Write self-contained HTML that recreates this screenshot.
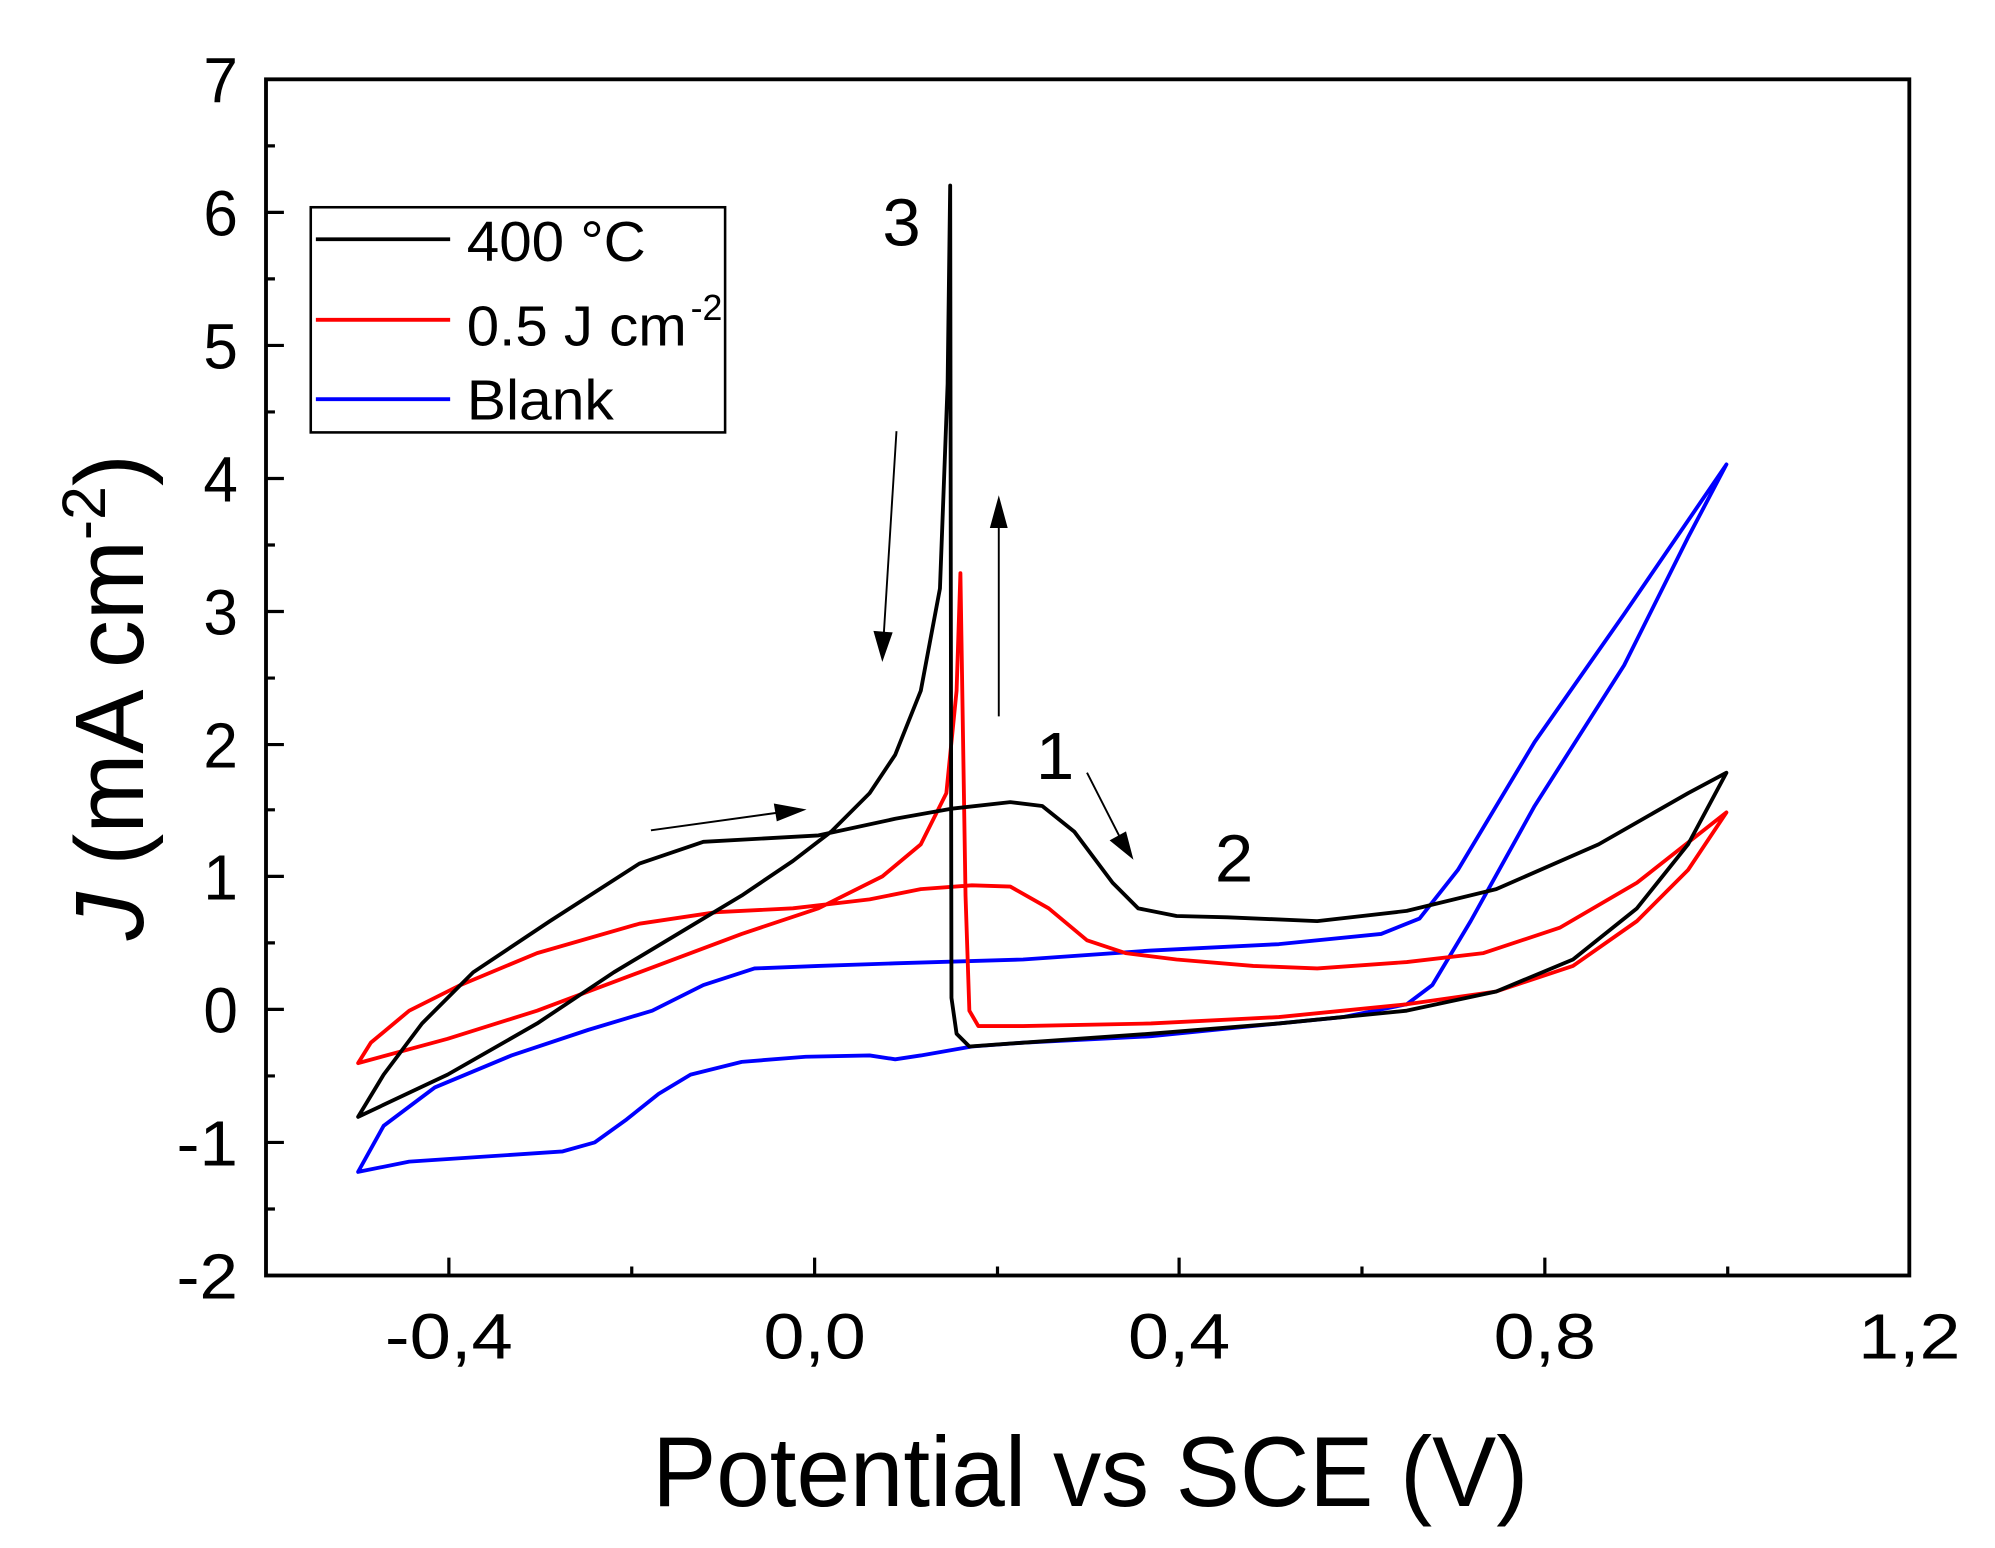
<!DOCTYPE html>
<html><head><style>html,body{margin:0;padding:0;background:#fff}svg{display:block}</style></head><body>
<svg width="1995" height="1548" viewBox="0 0 1560 1210" preserveAspectRatio="none" xmlns="http://www.w3.org/2000/svg" font-family="Liberation Sans, sans-serif">
<rect width="1560" height="1210" fill="#fff"/>
<rect x="208" y="62" width="1285" height="935" fill="none" stroke="#000" stroke-width="3"/>
<g stroke="#000" stroke-width="2.5">
<path d="M208 62h14M208 166h14M208 270h14M208 374h14M208 478h14M208 582h14M208 685h14M208 789h14M208 893h14"/>
<path d="M208 114h7M208 218h7M208 322h7M208 426h7M208 530h7M208 633h7M208 737h7M208 841h7M208 945h7"/>
<path d="M351 997v-14M637 997v-14M922 997v-14M1208 997v-14M494 997v-7M780 997v-7M1065 997v-7M1351 997v-7"/>
</g>
<g font-size="50" text-anchor="end">
<text x="186" y="80" textLength="27" lengthAdjust="spacingAndGlyphs">7</text><text x="186" y="184" textLength="27" lengthAdjust="spacingAndGlyphs">6</text><text x="186" y="288" textLength="27" lengthAdjust="spacingAndGlyphs">5</text><text x="186" y="392" textLength="27" lengthAdjust="spacingAndGlyphs">4</text><text x="186" y="496" textLength="27" lengthAdjust="spacingAndGlyphs">3</text><text x="186" y="600" textLength="27" lengthAdjust="spacingAndGlyphs">2</text><text x="186" y="703" textLength="27" lengthAdjust="spacingAndGlyphs">1</text><text x="186" y="807" textLength="27" lengthAdjust="spacingAndGlyphs">0</text><text x="186" y="911" textLength="48" lengthAdjust="spacingAndGlyphs">-1</text><text x="186" y="1015" textLength="48" lengthAdjust="spacingAndGlyphs">-2</text>
</g>
<g font-size="50" text-anchor="middle">
<text x="351" y="1062" textLength="100" lengthAdjust="spacingAndGlyphs">-0,4</text><text x="637" y="1062" textLength="80" lengthAdjust="spacingAndGlyphs">0,0</text><text x="922" y="1062" textLength="80" lengthAdjust="spacingAndGlyphs">0,4</text><text x="1208" y="1062" textLength="80" lengthAdjust="spacingAndGlyphs">0,8</text><text x="1493" y="1062" textLength="80" lengthAdjust="spacingAndGlyphs">1,2</text>
</g>
<text x="510" y="1177" font-size="78" textLength="685" lengthAdjust="spacingAndGlyphs">Potential vs SCE (V)</text>
<text transform="translate(112,735) rotate(-90)" font-size="76" textLength="380" lengthAdjust="spacingAndGlyphs"><tspan font-style="italic">J</tspan> (mA cm<tspan font-size="48" dy="-30">-2</tspan><tspan dy="30">)</tspan></text>
<g fill="none" stroke-width="3" stroke-linejoin="round">
<path stroke="#00f" d="M280 916L300 880L340 850L400 825L460 805L510 790L550 770L590 757L640 755L700 753L800 750L900 743L1000 738L1080 730L1110 718L1140 680L1200 580L1270 480L1350 363L1320 420L1270 520L1200 630L1150 720L1120 770L1100 785L1050 795L1000 800L900 810L800 815L760 818L720 825L700 828L680 825L630 826L580 830L540 840L515 855L490 875L465 893L440 900L380 904L320 908Z"/>
<path stroke="#f00" d="M280 831L290 815L320 790L360 770L420 745L500 722L560 713L620 710L680 703L720 695L760 692L790 693L820 710L850 735L880 745L920 750L980 755L1030 757L1100 752L1160 745L1220 725L1280 690L1350 635L1320 680L1280 720L1230 755L1170 775L1100 785L1000 795L900 800L800 802L765 802L758 790L755 700L751 448L748 540L740 620L720 660L690 685L640 710L580 730L500 760L420 790L350 812Z"/>
<path stroke="#000" d="M280 873L300 840L330 800L370 760L430 720L500 675L550 658L640 653L700 640L745 632L790 627L815 630L840 650L870 690L890 710L920 716L960 717L1030 720L1100 712L1170 695L1250 660L1320 620L1350 604L1320 660L1280 710L1230 750L1170 775L1100 790L1000 800L900 808L800 815L758 818L748 808L744 780L743 145L741 300L735 460L720 540L700 590L680 620L650 650L620 673L580 700L530 730L480 760L420 800L350 840Z"/>
</g>
<g stroke="#000" stroke-width="1.5" fill="#000">
<path d="M509 649L610 635"/><path d="M628 633L606 629L608 641Z"/>
<path d="M701 337L691 497"/><path d="M690 515L684 494L697 495Z"/>
<path d="M781 560V408"/><path d="M781 390L775 412H787Z"/>
<path d="M850 604L876 655"/><path d="M885 670L869 657L880 651Z"/>
</g>
<g font-size="52" text-anchor="middle">
<text x="705" y="192" textLength="30" lengthAdjust="spacingAndGlyphs">3</text><text x="825" y="609" textLength="30" lengthAdjust="spacingAndGlyphs">1</text><text x="965" y="689" textLength="30" lengthAdjust="spacingAndGlyphs">2</text>
</g>
<rect x="243" y="162" width="324" height="176" fill="#fff" stroke="#000" stroke-width="2"/>
<g stroke-width="3"><path stroke="#000" d="M247 187H352"/><path stroke="#f00" d="M247 250H352"/><path stroke="#00f" d="M247 312H352"/></g>
<g font-size="44">
<text x="365" y="204" textLength="140" lengthAdjust="spacingAndGlyphs">400 °C</text>
<text x="365" y="270" textLength="172" lengthAdjust="spacingAndGlyphs">0.5 J cm</text><text x="540" y="250" font-size="28">-2</text>
<text x="365" y="328" textLength="115" lengthAdjust="spacingAndGlyphs">Blank</text>
</g>
</svg>
</body></html>
